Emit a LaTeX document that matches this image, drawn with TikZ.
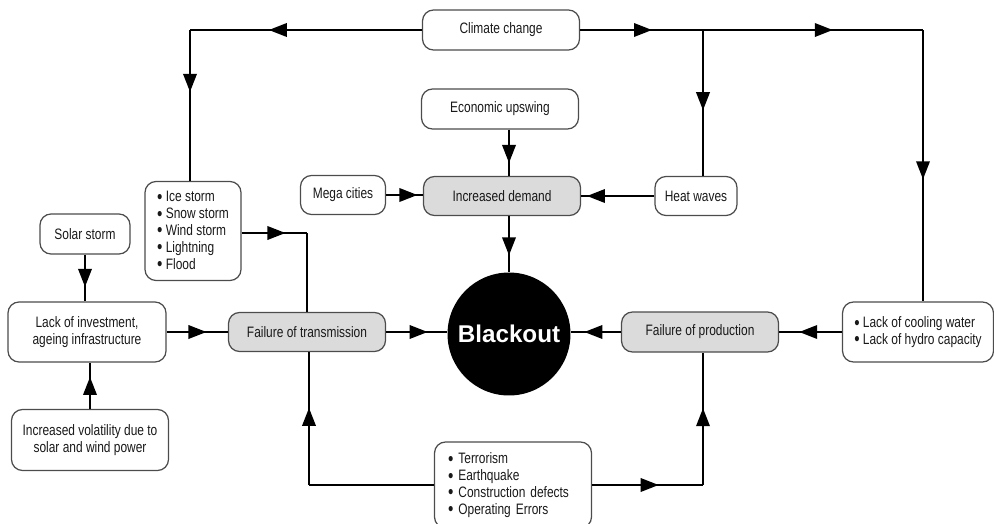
\documentclass[tikz,border=0pt]{standalone}
\usepackage{fontspec}
\setmainfont[FakeStretch=0.79]{Liberation Sans}
\newfontfamily\blackoutfont{Liberation Sans}
\usetikzlibrary{arrows.meta,decorations.markings,positioning}
\newcommand\itm{\raisebox{-0.9pt}{\fontsize{11}{0}\selectfont\textbullet}\ }
\tikzset{
  box/.style={draw=black!70,rounded corners=0.22cm,line width=0.7pt,align=center,inner sep=0.1cm,text=black!90,font=\fontsize{8.6}{9.6}\selectfont},
  greybox/.style={box,fill=black!14},
  listbox/.style={box,align=left},
  link/.style={line width=1.1pt},
  arr/.style={postaction={decorate},decoration={markings,mark=at position #1 with {\arrow{Triangle[length=0.36cm,width=0.27cm]}}}},
  arr/.default=0.6
}
\begin{document}
\begin{tikzpicture}[x=0.02cm,y=-0.02cm]
    \useasboundingbox (0,0) rectangle (994,524);
    \node[box,minimum width=3.14cm,minimum height=0.8cm] (cc) at (501,30) {Climate change};
    \node[box,minimum width=3.14cm,minimum height=0.8cm] (eco) at (500,109) {Economic upswing};
    \node[box,minimum width=1.7cm,minimum height=0.78cm] (mega) at (343,195) {Mega cities};
    \node[greybox,minimum width=3.14cm,minimum height=0.78cm] (dem) at (502,196) {Increased demand};
    \node[box,minimum width=1.64cm,minimum height=0.78cm] (heat) at (696,196) {Heat waves};
    \node[listbox,minimum width=1.92cm,minimum height=1.98cm] (ice) at (193,231) {\itm Ice storm\\\itm Snow storm\\\itm Wind storm\\\itm Lightning\\\itm Flood};
    \node[box,minimum width=1.8cm,minimum height=0.8cm] (solar) at (85,234) {Solar storm};
    \node[box,minimum width=3.16cm,minimum height=1.2cm] (lack) at (87,332) {Lack of investment,\\ageing infrastructure};
    \node[greybox,minimum width=3.14cm,minimum height=0.78cm] (tr) at (307,332) {Failure of transmission};
    \node[circle,fill=black,minimum size=2.46cm,text=white,font=\blackoutfont\bfseries\fontsize{13.8}{16}\selectfont] (blk) at (509,334) {Blackout};
    \node[greybox,minimum width=3.14cm,minimum height=0.8cm] (prod) at (700,332) {Failure of production};
    \node[listbox,minimum width=3.02cm,minimum height=1.2cm] (cool) at (918,332) {\itm Lack of cooling water\\\itm Lack of hydro capacity};
    \node[box,minimum width=3.14cm,minimum height=1.22cm] (vol) at (90,440) {Increased volatility due to\\solar and wind power};
    \node[listbox,text width=2.6cm,inner xsep=0.27cm,minimum height=1.72cm] (bot) at (513,485) {\itm Terrorism\\\itm Earthquake\\\itm Construction defects\\\itm Operating Errors};

    \coordinate (ccL) at (190,30);
    \coordinate (ccJ) at (703,30);
    \coordinate (ccR) at (923,30);
    \coordinate (iceR) at (307,233);
    \coordinate (botL) at (309,485);
    \coordinate (botR) at (703,485);

    \draw[link,arr=0.66] (cc.west) -- (ccL);
    \draw[link,arr=0.41] (ccL) -- (ccL |- ice.north);
    \draw[link,arr=0.585] (cc.east) -- (ccJ);
    \draw[link,arr=0.59] (ccJ) -- (ccR);
    \draw[link,arr=0.55] (ccR) -- (ccR |- cool.north);
    \draw[link,arr=0.55] (ccJ) -- (ccJ |- heat.north);
    \draw[link,arr=0.92] (heat.west) -- (dem.east);
    \draw[link,arr=0.85] (mega.east) -- (mega.east -| dem.west);
    \draw[link,arr=0.72] (blk |- eco.south) -- (blk |- dem.north);
    \draw[link,arr=0.7] (blk |- dem.south) -- (blk.north);
    \draw[link,arr=0.68] (tr.east) -- (tr.east -| blk.west);
    \draw[link,arr=0.73] (prod.west) -- (prod.west -| blk.east);
    \draw[link,arr=0.68] (cool.west) -- (cool.west -| prod.east);
    \draw[link,arr=0.67] (ice.east |- iceR) -- (iceR);
    \draw[link] (iceR) -- (iceR |- tr.north);
    \draw[link,arr=0.69] (solar.south) -- (solar.south |- lack.north);
    \draw[link,arr=0.65] (lack.east) -- (lack.east -| tr.west);
    \draw[link,arr=0.69] (vol.north) -- (vol.north |- lack.south);
    \draw[link] (bot.west) -- (botL);
    \draw[link,arr=0.58] (botL) -- (botL |- tr.south);
    \draw[link,arr=0.6] (bot.east) -- (botR);
    \draw[link,arr=0.58] (botR) -- (botR |- prod.south);
\end{tikzpicture}
\end{document}
